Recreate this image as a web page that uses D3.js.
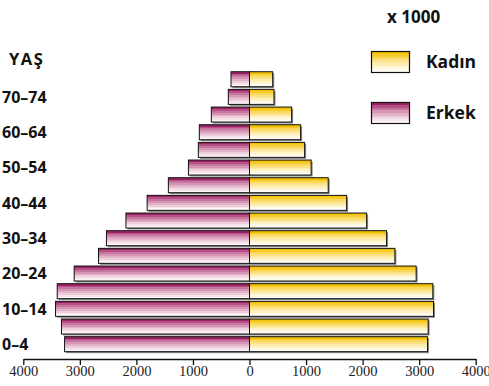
<!DOCTYPE html>
<html><head><meta charset="utf-8">
<script src="https://cdn.jsdelivr.net/npm/d3@7"></script>
<style>body{margin:0;background:#fff}svg{display:block}</style>
</head><body>
<svg id="c" width="489" height="386"></svg>
<script>
const ages = ["0-4","5-9","10-14","15-19","20-24","25-29","30-34","35-39","40-44","45-49","50-54","55-59","60-64","65-69","70-74","75+"];
const tickAges = ["0–4","10–14","20–24","30–34","40–44","50–54","60–64","70–74"];
const tickAgeKeys = ["0-4","10-14","20-24","30-34","40-44","50-54","60-64","70-74"];
const male =   [3270,3325,3430,3400,3100,2670,2530,2185,1810,1435,1080,905,887,675,375,327];
const female = [3148,3159,3254,3242,2947,2571,2424,2071,1717,1392,1090,975,904,745,433,410];
const xTicks = [-4000,-3000,-2000,-1000,0,1000,2000,3000,4000];

const FONT = "'Open Sans', sans-serif";
const svg = d3.select("#c");
const x = d3.scaleLinear().domain([-4000,4000]).range([23.3,475.7]);
const y = d3.scaleBand().domain(ages.slice().reverse()).range([70.4,353.0]).paddingInner(0.151).paddingOuter(0.0755);

const defs = svg.append("defs");
function stepped(id, cols){
  const g = defs.append("linearGradient").attr("id",id).attr("x1",0).attr("y1",0).attr("x2",0).attr("y2",1);
  const n = cols.length;
  cols.forEach((c,i)=>{
    g.append("stop").attr("offset",i/n).attr("stop-color",c);
    g.append("stop").attr("offset",(i+1)/n).attr("stop-color",c);
  });
}
stepped("gm",["#9c2464","#b64f86","#c776a0","#d695b5","#e2b2c9","#edcddb","#f6e4ec","#fdf7fa"]);
stepped("gf",["#f2c000","#f6cc2c","#f9d85c","#fbe287","#fdebaa","#fef2c8","#fff8e2","#fffdf7"]);

const bars = svg.append("g");
const x0 = x(0);
ages.forEach((a,i)=>{
  const yy = y(a), h = y.bandwidth();
  const xm = x(-male[i]);
  bars.append("rect").attr("x",xm+1.5).attr("y",yy+1.5).attr("width",x0-xm).attr("height",h).attr("fill","#8a8a8a");
  bars.append("rect").attr("x",xm).attr("y",yy).attr("width",x0-xm).attr("height",h)
    .attr("fill","url(#gm)").attr("stroke","#111").attr("stroke-width",1);
  const xf = x(female[i]);
  bars.append("rect").attr("x",x0+1.5).attr("y",yy+1.5).attr("width",xf-x0).attr("height",h).attr("fill","#8a8a8a");
  bars.append("rect").attr("x",x0).attr("y",yy).attr("width",xf-x0).attr("height",h)
    .attr("fill","url(#gf)").attr("stroke","#111").attr("stroke-width",1);
});

// x axis
const ax = svg.append("g").attr("transform","translate(0,359)")
  .call(d3.axisBottom(x).tickValues(xTicks).tickFormat(d=>Math.abs(d)).tickSize(6).tickSizeOuter(0));
ax.select(".domain").attr("stroke","#111").attr("stroke-width",1.3);
ax.selectAll(".tick line").attr("stroke","#111").attr("stroke-width",1.3);
ax.selectAll(".tick text").attr("font-family","'Liberation Serif', serif").attr("font-size",14.5).attr("fill","#222").attr("dy","0.9em").attr("y",4);

// y labels
const yl = svg.append("g");
tickAgeKeys.forEach((k,i)=>{
  yl.append("text").attr("x",2).attr("y",y(k)+y.bandwidth()/2).attr("dy","0.36em")
    .attr("font-family",FONT).attr("font-weight","bold").attr("font-size",16).attr("fill","#111")
    .text(tickAges[i]);
});
svg.append("text").attr("x",9).attr("y",65).attr("font-family",FONT).attr("font-weight","bold")
  .attr("font-size",16.5).attr("letter-spacing",1.5).attr("fill","#111").text("YAŞ");

// legend
svg.append("text").attr("x",387).attr("y",23).attr("font-family",FONT).attr("font-weight","bold")
  .attr("font-size",17).attr("fill","#111").text("x 1000");
const leg = [{n:"Kadın",g:"gf",y:51},{n:"Erkek",g:"gm",y:102}];
leg.forEach(l=>{
  svg.append("rect").attr("x",371.5).attr("y",l.y+0.5).attr("width",38).attr("height",21)
    .attr("fill",`url(#${l.g})`).attr("stroke","#111").attr("stroke-width",1.2);
  svg.append("text").attr("x",426).attr("y",l.y+11).attr("dy","0.36em").attr("font-family",FONT)
    .attr("font-weight","bold").attr("font-size",17.5).attr("fill","#111").text(l.n);
});
</script>
</body></html>
